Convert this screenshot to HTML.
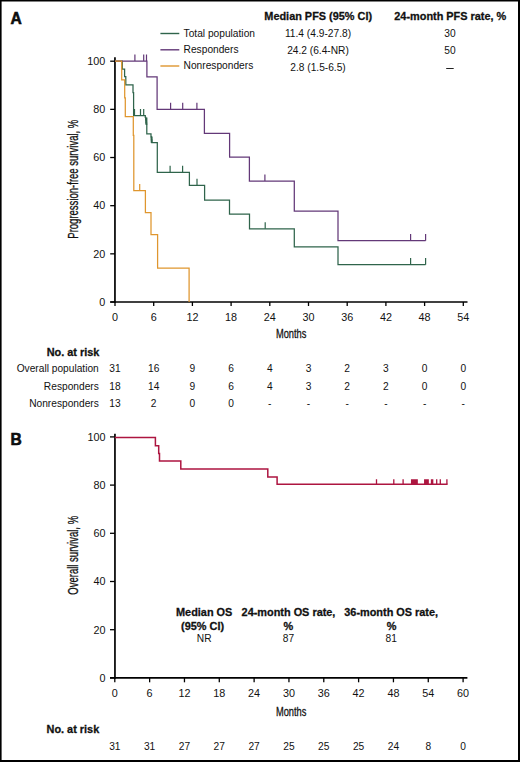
<!DOCTYPE html>
<html><head><meta charset="utf-8"><style>
html,body{margin:0;padding:0;background:#fff;}
svg{display:block;}
text{font-family:"Liberation Sans",sans-serif;fill:#111;}
</style></head><body>
<svg width="520" height="762" viewBox="0 0 520 762">
<rect x="0" y="0" width="520" height="762" fill="#fff"/>
<rect x="0" y="0" width="520" height="1.5" fill="#000"/>
<rect x="0" y="0" width="1.6" height="762" fill="#000"/>
<rect x="518" y="0" width="2" height="762" fill="#000"/>
<rect x="0" y="760" width="520" height="2" fill="#000"/>
<text x="10.60" y="23.80" font-size="15.6" text-anchor="start" font-weight="bold" stroke="#000" stroke-width="0.55">A</text>
<text x="10.60" y="445.30" font-size="15.6" text-anchor="start" font-weight="bold" stroke="#000" stroke-width="0.55">B</text>
<line x1="160.4" y1="33.5" x2="179.3" y2="33.5" stroke="#2f644b" stroke-width="1.4"/>
<text x="183.60" y="36.90" font-size="10.2" text-anchor="start" font-weight="normal" >Total population</text>
<line x1="160.4" y1="49.8" x2="179.3" y2="49.8" stroke="#633878" stroke-width="1.4"/>
<text x="183.60" y="53.20" font-size="10.2" text-anchor="start" font-weight="normal" >Responders</text>
<line x1="160.4" y1="66.0" x2="179.3" y2="66.0" stroke="#df962e" stroke-width="1.4"/>
<text x="183.60" y="69.40" font-size="10.2" text-anchor="start" font-weight="normal" >Nonresponders</text>
<text x="318.20" y="19.70" font-size="10.9" text-anchor="middle" font-weight="bold" stroke="#111" stroke-width="0.28">Median PFS (95% CI)</text>
<text x="450.30" y="19.80" font-size="10.9" text-anchor="middle" font-weight="bold" stroke="#111" stroke-width="0.28">24-month PFS rate, %</text>
<text x="318.00" y="37.00" font-size="10.2" text-anchor="middle" font-weight="normal" >11.4 (4.9-27.8)</text>
<text x="450.00" y="37.00" font-size="10.2" text-anchor="middle" font-weight="normal" >30</text>
<text x="318.00" y="54.20" font-size="10.2" text-anchor="middle" font-weight="normal" >24.2 (6.4-NR)</text>
<text x="450.00" y="54.20" font-size="10.2" text-anchor="middle" font-weight="normal" >50</text>
<text x="318.00" y="71.20" font-size="10.2" text-anchor="middle" font-weight="normal" >2.8 (1.5-6.5)</text>
<line x1="446.2" y1="68.5" x2="453.7" y2="68.5" stroke="#222" stroke-width="1.0"/>
<g stroke="#000" stroke-width="1.3" fill="none">
<line x1="114.95" y1="57.3" x2="114.95" y2="302.8" stroke-width="1.7"/>
<line x1="110.2" y1="302.0" x2="467.5" y2="302.0" stroke-width="1.6"/>
<line x1="110.2" y1="302.00" x2="115.0" y2="302.00"/>
<line x1="110.2" y1="253.84" x2="115.0" y2="253.84"/>
<line x1="110.2" y1="205.68" x2="115.0" y2="205.68"/>
<line x1="110.2" y1="157.52" x2="115.0" y2="157.52"/>
<line x1="110.2" y1="109.36" x2="115.0" y2="109.36"/>
<line x1="110.2" y1="61.20" x2="115.0" y2="61.20"/>
<line x1="115.00" y1="302.0" x2="115.00" y2="306"/>
<line x1="153.70" y1="302.0" x2="153.70" y2="306"/>
<line x1="192.40" y1="302.0" x2="192.40" y2="306"/>
<line x1="231.10" y1="302.0" x2="231.10" y2="306"/>
<line x1="269.80" y1="302.0" x2="269.80" y2="306"/>
<line x1="308.50" y1="302.0" x2="308.50" y2="306"/>
<line x1="347.20" y1="302.0" x2="347.20" y2="306"/>
<line x1="385.90" y1="302.0" x2="385.90" y2="306"/>
<line x1="424.60" y1="302.0" x2="424.60" y2="306"/>
<line x1="463.30" y1="302.0" x2="463.30" y2="306"/>
</g>
<text x="105.30" y="305.80" font-size="10.8" text-anchor="end" font-weight="normal" >0</text>
<text x="105.30" y="257.64" font-size="10.8" text-anchor="end" font-weight="normal" >20</text>
<text x="105.30" y="209.48" font-size="10.8" text-anchor="end" font-weight="normal" >40</text>
<text x="105.30" y="161.32" font-size="10.8" text-anchor="end" font-weight="normal" >60</text>
<text x="105.30" y="113.16" font-size="10.8" text-anchor="end" font-weight="normal" >80</text>
<text x="105.30" y="65.00" font-size="10.8" text-anchor="end" font-weight="normal" >100</text>
<text x="115.00" y="320.70" font-size="10.8" text-anchor="middle" font-weight="normal" >0</text>
<text x="153.70" y="320.70" font-size="10.8" text-anchor="middle" font-weight="normal" >6</text>
<text x="192.40" y="320.70" font-size="10.8" text-anchor="middle" font-weight="normal" >12</text>
<text x="231.10" y="320.70" font-size="10.8" text-anchor="middle" font-weight="normal" >18</text>
<text x="269.80" y="320.70" font-size="10.8" text-anchor="middle" font-weight="normal" >24</text>
<text x="308.50" y="320.70" font-size="10.8" text-anchor="middle" font-weight="normal" >30</text>
<text x="347.20" y="320.70" font-size="10.8" text-anchor="middle" font-weight="normal" >36</text>
<text x="385.90" y="320.70" font-size="10.8" text-anchor="middle" font-weight="normal" >42</text>
<text x="424.60" y="320.70" font-size="10.8" text-anchor="middle" font-weight="normal" >48</text>
<text x="463.30" y="320.70" font-size="10.8" text-anchor="middle" font-weight="normal" >54</text>
<text transform="translate(291.2,337.8) scale(0.70,1)" font-size="13.3" text-anchor="middle" stroke="#111" stroke-width="0.3">Months</text>
<text transform="translate(77.9,179.2) rotate(-90) scale(0.68,1)" font-size="14" text-anchor="middle" stroke="#111" stroke-width="0.3">Progression-free survival, %</text>
<path d="M115,61H122.3V69H124.6V76.7H125.8V84.8H133V92.6H133.6V115.6H145.3V117.4H145.7V119.9H146.1V122.4H146.5V124.4H146.8V133.8H151V136.9H151.4V139.9H151.8V142.6H157.3V172.4H189.4V185.4H204.6V200H229.5V214.2H249.5V228.8H294.3V246.8H338V264.7H425.6" stroke="#2f644b" stroke-width="1.25" fill="none"/>
<path d="M115,61H146.9V76.9H157.1V109.4H204.4V133.4H229.6V157.2H249.4V181H294.3V211H338V240.7H425.6" stroke="#633878" stroke-width="1.25" fill="none"/>
<path d="M115,61H121.7V79.8H124.7V97.9H125.3V116.5H133.3V135.4H133.8V190.5H145.4V212.6H151V234.6H157.6V268H189.1V302" stroke="#df962e" stroke-width="1.25" fill="none"/>
<path d="M134.9,61v-6.6M143.7,61v-6.6M146.5,61v-6.6M170.6,109.4v-6.6M182.7,109.4v-6.6M196.9,109.4v-6.6M264.9,181v-6.6M410.6,240.7v-6.6M425.6,240.7v-6.6" stroke="#633878" stroke-width="1.2" fill="none"/>
<path d="M134.5,115.6v-6.6M140.5,115.6v-6.6M143.7,115.6v-6.6M170.1,172.4v-6.6M182.6,172.4v-6.6M197,185.4v-6.6M265.2,228.8v-6.6M410.6,264.7v-6.6M425.6,264.7v-6.6" stroke="#2f644b" stroke-width="1.2" fill="none"/>
<path d="M139.7,190.5v-6.6" stroke="#df962e" stroke-width="1.2" fill="none"/>
<rect x="145.3" y="117.5" width="2.1" height="7.1" fill="#2f644b"/>
<rect x="150.7" y="136.5" width="1.9" height="6.3" fill="#2f644b"/>
<text x="99.30" y="355.50" font-size="10.9" text-anchor="end" font-weight="bold" stroke="#111" stroke-width="0.28">No. at risk</text>
<text x="98.80" y="372.40" font-size="10.2" text-anchor="end" font-weight="normal" >Overall population</text>
<text x="115.00" y="372.40" font-size="10.2" text-anchor="middle" font-weight="normal" >31</text>
<text x="153.70" y="372.40" font-size="10.2" text-anchor="middle" font-weight="normal" >16</text>
<text x="192.40" y="372.40" font-size="10.2" text-anchor="middle" font-weight="normal" >9</text>
<text x="231.10" y="372.40" font-size="10.2" text-anchor="middle" font-weight="normal" >6</text>
<text x="269.80" y="372.40" font-size="10.2" text-anchor="middle" font-weight="normal" >4</text>
<text x="308.50" y="372.40" font-size="10.2" text-anchor="middle" font-weight="normal" >3</text>
<text x="347.20" y="372.40" font-size="10.2" text-anchor="middle" font-weight="normal" >2</text>
<text x="385.90" y="372.40" font-size="10.2" text-anchor="middle" font-weight="normal" >3</text>
<text x="424.60" y="372.40" font-size="10.2" text-anchor="middle" font-weight="normal" >0</text>
<text x="463.30" y="372.40" font-size="10.2" text-anchor="middle" font-weight="normal" >0</text>
<text x="98.80" y="389.60" font-size="10.2" text-anchor="end" font-weight="normal" >Responders</text>
<text x="115.00" y="389.60" font-size="10.2" text-anchor="middle" font-weight="normal" >18</text>
<text x="153.70" y="389.60" font-size="10.2" text-anchor="middle" font-weight="normal" >14</text>
<text x="192.40" y="389.60" font-size="10.2" text-anchor="middle" font-weight="normal" >9</text>
<text x="231.10" y="389.60" font-size="10.2" text-anchor="middle" font-weight="normal" >6</text>
<text x="269.80" y="389.60" font-size="10.2" text-anchor="middle" font-weight="normal" >4</text>
<text x="308.50" y="389.60" font-size="10.2" text-anchor="middle" font-weight="normal" >3</text>
<text x="347.20" y="389.60" font-size="10.2" text-anchor="middle" font-weight="normal" >2</text>
<text x="385.90" y="389.60" font-size="10.2" text-anchor="middle" font-weight="normal" >2</text>
<text x="424.60" y="389.60" font-size="10.2" text-anchor="middle" font-weight="normal" >0</text>
<text x="463.30" y="389.60" font-size="10.2" text-anchor="middle" font-weight="normal" >0</text>
<text x="98.80" y="406.70" font-size="10.2" text-anchor="end" font-weight="normal" >Nonresponders</text>
<text x="115.00" y="406.70" font-size="10.2" text-anchor="middle" font-weight="normal" >13</text>
<text x="153.70" y="406.70" font-size="10.2" text-anchor="middle" font-weight="normal" >2</text>
<text x="192.40" y="406.70" font-size="10.2" text-anchor="middle" font-weight="normal" >0</text>
<text x="231.10" y="406.70" font-size="10.2" text-anchor="middle" font-weight="normal" >0</text>
<text x="269.80" y="406.70" font-size="10.2" text-anchor="middle" font-weight="normal" >-</text>
<text x="308.50" y="406.70" font-size="10.2" text-anchor="middle" font-weight="normal" >-</text>
<text x="347.20" y="406.70" font-size="10.2" text-anchor="middle" font-weight="normal" >-</text>
<text x="385.90" y="406.70" font-size="10.2" text-anchor="middle" font-weight="normal" >-</text>
<text x="424.60" y="406.70" font-size="10.2" text-anchor="middle" font-weight="normal" >-</text>
<text x="463.30" y="406.70" font-size="10.2" text-anchor="middle" font-weight="normal" >-</text>
<g stroke="#000" stroke-width="1.3" fill="none">
<line x1="114.95" y1="433.8" x2="114.95" y2="678.6999999999999" stroke-width="1.7"/>
<line x1="110" y1="677.9" x2="467.4" y2="677.9" stroke-width="1.6"/>
<line x1="110" y1="677.90" x2="114.8" y2="677.90"/>
<line x1="110" y1="629.70" x2="114.8" y2="629.70"/>
<line x1="110" y1="581.50" x2="114.8" y2="581.50"/>
<line x1="110" y1="533.30" x2="114.8" y2="533.30"/>
<line x1="110" y1="485.10" x2="114.8" y2="485.10"/>
<line x1="110" y1="436.90" x2="114.8" y2="436.90"/>
<line x1="114.80" y1="677.9" x2="114.80" y2="682.3"/>
<line x1="149.63" y1="677.9" x2="149.63" y2="682.3"/>
<line x1="184.46" y1="677.9" x2="184.46" y2="682.3"/>
<line x1="219.29" y1="677.9" x2="219.29" y2="682.3"/>
<line x1="254.12" y1="677.9" x2="254.12" y2="682.3"/>
<line x1="288.95" y1="677.9" x2="288.95" y2="682.3"/>
<line x1="323.78" y1="677.9" x2="323.78" y2="682.3"/>
<line x1="358.61" y1="677.9" x2="358.61" y2="682.3"/>
<line x1="393.44" y1="677.9" x2="393.44" y2="682.3"/>
<line x1="428.27" y1="677.9" x2="428.27" y2="682.3"/>
<line x1="463.10" y1="677.9" x2="463.10" y2="682.3"/>
</g>
<text x="105.60" y="681.70" font-size="10.8" text-anchor="end" font-weight="normal" >0</text>
<text x="105.60" y="633.50" font-size="10.8" text-anchor="end" font-weight="normal" >20</text>
<text x="105.60" y="585.30" font-size="10.8" text-anchor="end" font-weight="normal" >40</text>
<text x="105.60" y="537.10" font-size="10.8" text-anchor="end" font-weight="normal" >60</text>
<text x="105.60" y="488.90" font-size="10.8" text-anchor="end" font-weight="normal" >80</text>
<text x="105.60" y="440.70" font-size="10.8" text-anchor="end" font-weight="normal" >100</text>
<text x="114.80" y="697.00" font-size="10.8" text-anchor="middle" font-weight="normal" >0</text>
<text x="149.63" y="697.00" font-size="10.8" text-anchor="middle" font-weight="normal" >6</text>
<text x="184.46" y="697.00" font-size="10.8" text-anchor="middle" font-weight="normal" >12</text>
<text x="219.29" y="697.00" font-size="10.8" text-anchor="middle" font-weight="normal" >18</text>
<text x="254.12" y="697.00" font-size="10.8" text-anchor="middle" font-weight="normal" >24</text>
<text x="288.95" y="697.00" font-size="10.8" text-anchor="middle" font-weight="normal" >30</text>
<text x="323.78" y="697.00" font-size="10.8" text-anchor="middle" font-weight="normal" >36</text>
<text x="358.61" y="697.00" font-size="10.8" text-anchor="middle" font-weight="normal" >42</text>
<text x="393.44" y="697.00" font-size="10.8" text-anchor="middle" font-weight="normal" >48</text>
<text x="428.27" y="697.00" font-size="10.8" text-anchor="middle" font-weight="normal" >54</text>
<text x="463.10" y="697.00" font-size="10.8" text-anchor="middle" font-weight="normal" >60</text>
<text transform="translate(291.2,716) scale(0.70,1)" font-size="13.3" text-anchor="middle" stroke="#111" stroke-width="0.3">Months</text>
<text transform="translate(77.9,555.3) rotate(-90) scale(0.68,1)" font-size="14" text-anchor="middle" stroke="#111" stroke-width="0.3">Overall survival, %</text>
<path d="M114.8,437.6H155.4V445.7H158.7V453.4H159.5V461.1H180.8V468.9H267.8V476.9H277.1V484.3H447.6" stroke="#ad1540" stroke-width="1.5" fill="none"/>
<path d="M376.5,484.3v-5.0M393.8,484.3v-5.0M403.1,484.3v-5.0M411.6,484.3v-5.0M412.6,484.3v-5.0M413.7,484.3v-5.0M414.9,484.3v-5.0M416.1,484.3v-5.0M417.2,484.3v-5.0M424.7,484.3v-5.0M425.8,484.3v-5.0M427,484.3v-5.0M428.2,484.3v-5.0M431.5,484.3v-5.0M432.7,484.3v-5.0M436.7,484.3v-5.0M440.3,484.3v-5.0M446.9,484.3v-5.0" stroke="#ad1540" stroke-width="1.3" fill="none"/>
<text x="204.20" y="616.30" font-size="10.9" text-anchor="middle" font-weight="bold" stroke="#111" stroke-width="0.28">Median OS</text>
<text x="202.60" y="629.60" font-size="10.9" text-anchor="middle" font-weight="bold" stroke="#111" stroke-width="0.28">(95% CI)</text>
<text x="204.20" y="642.20" font-size="10.2" text-anchor="middle" font-weight="normal" >NR</text>
<text x="288.50" y="616.30" font-size="10.9" text-anchor="middle" font-weight="bold" stroke="#111" stroke-width="0.28">24-month OS rate,</text>
<text x="288.40" y="629.60" font-size="10.9" text-anchor="middle" font-weight="bold" stroke="#111" stroke-width="0.28">%</text>
<text x="288.50" y="642.20" font-size="10.2" text-anchor="middle" font-weight="normal" >87</text>
<text x="391.20" y="616.30" font-size="10.9" text-anchor="middle" font-weight="bold" stroke="#111" stroke-width="0.28">36-month OS rate,</text>
<text x="391.50" y="629.60" font-size="10.9" text-anchor="middle" font-weight="bold" stroke="#111" stroke-width="0.28">%</text>
<text x="391.20" y="642.20" font-size="10.2" text-anchor="middle" font-weight="normal" >81</text>
<text x="99.20" y="733.10" font-size="10.9" text-anchor="end" font-weight="bold" stroke="#111" stroke-width="0.28">No. at risk</text>
<text x="114.80" y="749.60" font-size="10.2" text-anchor="middle" font-weight="normal" >31</text>
<text x="149.63" y="749.60" font-size="10.2" text-anchor="middle" font-weight="normal" >31</text>
<text x="184.46" y="749.60" font-size="10.2" text-anchor="middle" font-weight="normal" >27</text>
<text x="219.29" y="749.60" font-size="10.2" text-anchor="middle" font-weight="normal" >27</text>
<text x="254.12" y="749.60" font-size="10.2" text-anchor="middle" font-weight="normal" >27</text>
<text x="288.95" y="749.60" font-size="10.2" text-anchor="middle" font-weight="normal" >25</text>
<text x="323.78" y="749.60" font-size="10.2" text-anchor="middle" font-weight="normal" >25</text>
<text x="358.61" y="749.60" font-size="10.2" text-anchor="middle" font-weight="normal" >25</text>
<text x="393.44" y="749.60" font-size="10.2" text-anchor="middle" font-weight="normal" >24</text>
<text x="428.27" y="749.60" font-size="10.2" text-anchor="middle" font-weight="normal" >8</text>
<text x="463.10" y="749.60" font-size="10.2" text-anchor="middle" font-weight="normal" >0</text>
</svg>
</body></html>
